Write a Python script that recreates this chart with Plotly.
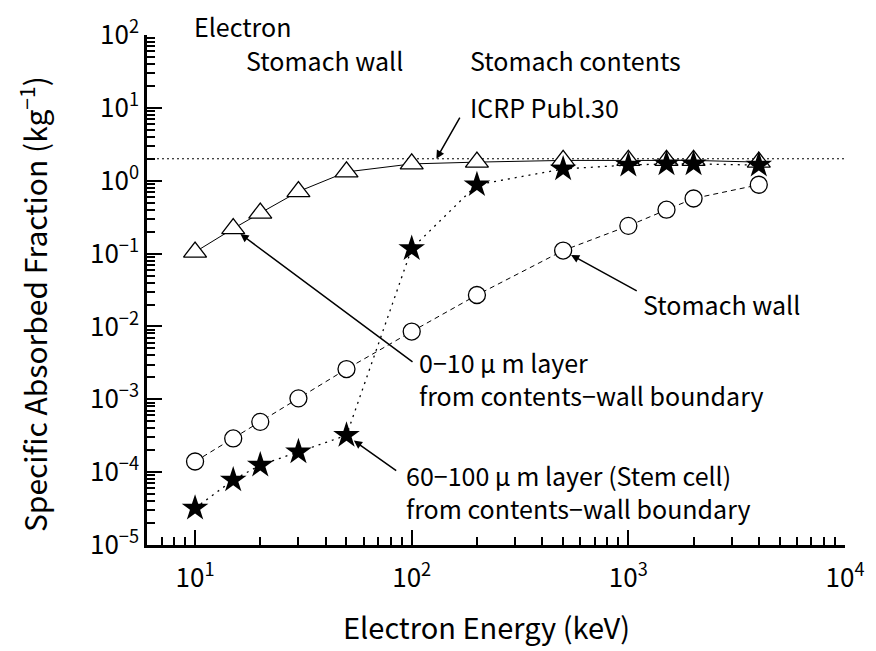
import math
import plotly.graph_objects as go

# Electron energies (keV)
energy = [10, 15, 20, 30, 50, 100, 200, 500, 1000, 1500, 2000, 4000]

# Specific absorbed fraction (kg^-1)
saf_layer_0_10 = [0.105, 0.22, 0.36, 0.71, 1.32, 1.7, 1.8, 1.9, 1.9, 1.9, 1.9, 1.8]
saf_stem_60_100 = [3.2e-5, 7.8e-5, 1.25e-4, 1.9e-4, 3.2e-4, 0.117, 0.88, 1.45, 1.64, 1.7, 1.7, 1.64]
saf_wall = [1.4e-4, 2.9e-4, 4.9e-4, 1.03e-3, 2.6e-3, 8.5e-3, 0.027, 0.11, 0.24, 0.40, 0.57, 0.88]

# ICRP Publ.30 reference value
icrp_value = 2.0
icrp_span = [6, 10000]

x_ticks = [10, 100, 1000, 10000]
x_ticktext = ["10<sup>1</sup>", "10<sup>2</sup>", "10<sup>3</sup>", "10<sup>4</sup>"]
y_ticks = [1e-5, 1e-4, 1e-3, 1e-2, 1e-1, 1, 10, 100]
y_ticktext = ["10<sup>−5</sup>", "10<sup>−4</sup>", "10<sup>−3</sup>", "10<sup>−2</sup>",
              "10<sup>−1</sup>", "10<sup>0</sup>", "10<sup>1</sup>", "10<sup>2</sup>"]

FONT = "Noto Sans CJK JP, Noto Sans, sans-serif"

fig = go.Figure()

fig.add_trace(go.Scatter(
    x=icrp_span, y=[icrp_value, icrp_value], mode="lines",
    line=dict(color="black", width=1, dash="2px,3px"), hoverinfo="skip"))

fig.add_trace(go.Scatter(
    x=energy, y=saf_wall, mode="lines+markers",
    line=dict(color="black", width=1, dash="5px,4px"),
    marker=dict(symbol="circle", size=17, color="white",
                line=dict(color="black", width=1.3))))

fig.add_trace(go.Scatter(
    x=energy, y=saf_layer_0_10, mode="lines+markers",
    line=dict(color="black", width=1),
    marker=dict(symbol="triangle-up", size=20, color="white",
                line=dict(color="black", width=1.3))))

fig.add_trace(go.Scatter(
    x=energy, y=saf_stem_60_100, mode="lines+markers",
    line=dict(color="black", width=1.3, dash="2px,5px"),
    marker=dict(symbol="star", size=20, color="black",
                line=dict(color="black", width=0))))

text_font = dict(family=FONT, size=25, color="black")

W, H = 876, 651
L, R, T, B = 147, 23, 27, 106
pw, ph = W - L - R, H - T - B
xr = (math.log10(6), 4)
yr = (-5, 2)


def px(xp, yp):
    """pixel position -> paper coordinates"""
    return (xp - L) / pw, 1 - (yp - T) / ph


def data_px(x, y):
    """data values -> pixel position"""
    xp = L + (math.log10(x) - xr[0]) / (xr[1] - xr[0]) * pw
    yp = T + (yr[1] - math.log10(y)) / (yr[1] - yr[0]) * ph
    return xp, yp


# free-standing labels
labels = [
    ("Electron", 193, 18),
    ("Stomach wall", 245, 52),
    ("Stomach contents", 472, 52),
]
for txt, xp, yp in labels:
    xx, yy = px(xp, yp)
    fig.add_annotation(x=xx, y=yy, xref="paper", yref="paper", text=txt,
                       showarrow=False, xanchor="left", yanchor="middle",
                       font=text_font)

# labels with arrows: text, text position (px), arrow target (data), tail (px), standoff
arrow_labels = [
    ("ICRP Publ.30", (472, 100), (130, icrp_value), (464, 110), 0),
    ("0−10 μ m layer<br>from contents−wall boundary", (420, 376),
     (energy[1], saf_layer_0_10[1]), (415, 358), 9),
    ("60−100 μ m layer (Stem cell)<br>from contents−wall boundary", (407, 491),
     (energy[4], saf_stem_60_100[4]), (400, 470), 9),
    ("Stomach wall", (647, 300), (energy[7], saf_wall[7]), (643, 287), 9),
]

for txt, (tx, ty), (hx, hy), (ax, ay), so in arrow_labels:
    xx, yy = px(tx, ty)
    fig.add_annotation(x=xx, y=yy, xref="paper", yref="paper", text=txt,
                       showarrow=False, xanchor="left", yanchor="middle",
                       align="left", font=text_font)
    hxp, hyp = data_px(hx, hy)
    fig.add_annotation(x=math.log10(hx), y=math.log10(hy), xref="x", yref="y",
                       ax=ax - hxp, ay=ay - hyp, axref="pixel", ayref="pixel",
                       text="", showarrow=True, arrowhead=2, arrowsize=1.1,
                       arrowwidth=1.5, arrowcolor="black", standoff=so)

# axis titles
xx, yy = px(490, 627)
fig.add_annotation(x=xx, y=yy, xref="paper", yref="paper",
                   text="Electron Energy (keV)", showarrow=False,
                   xanchor="center", yanchor="middle",
                   font=dict(family=FONT, size=29, color="black"))
xx, yy = px(32, 300)
fig.add_annotation(x=xx, y=yy, xref="paper", yref="paper",
                   text="Specific Absorbed Fraction (kg<sup>−1</sup>)", showarrow=False,
                   textangle=-90, xanchor="center", yanchor="middle",
                   font=dict(family=FONT, size=30, color="black"))

minor_x = [v * 10 ** d for d in range(0, 4) for v in range(2, 10) if 6 <= v * 10 ** d < 10000]
minor_y = [v * 10 ** d for d in range(-5, 2) for v in range(2, 10)]

fig.update_xaxes(
    type="log", range=list(xr), tickvals=x_ticks, ticktext=x_ticktext,
    ticks="inside", ticklen=15, tickwidth=2, tickcolor="black",
    showline=True, linewidth=2.5, linecolor="black", showgrid=False, zeroline=False,
    minor=dict(tickvals=minor_x, ticks="inside", ticklen=8, tickwidth=1.5,
               tickcolor="black", showgrid=False),
    tickfont=dict(family=FONT, size=26, color="black"),
    ticklabelstandoff=8,
)
fig.update_yaxes(
    type="log", range=list(yr), tickvals=y_ticks, ticktext=y_ticktext,
    ticks="inside", ticklen=15, tickwidth=2, tickcolor="black",
    showline=True, linewidth=2.5, linecolor="black", showgrid=False, zeroline=False,
    minor=dict(tickvals=minor_y, ticks="inside", ticklen=8, tickwidth=1.5,
               tickcolor="black", showgrid=False),
    tickfont=dict(family=FONT, size=26, color="black"),
)

fig.update_layout(
    width=W, height=H, showlegend=False,
    margin=dict(l=L, r=R, t=T, b=B),
    paper_bgcolor="white", plot_bgcolor="white",
)

fig.write_html("out.html")
